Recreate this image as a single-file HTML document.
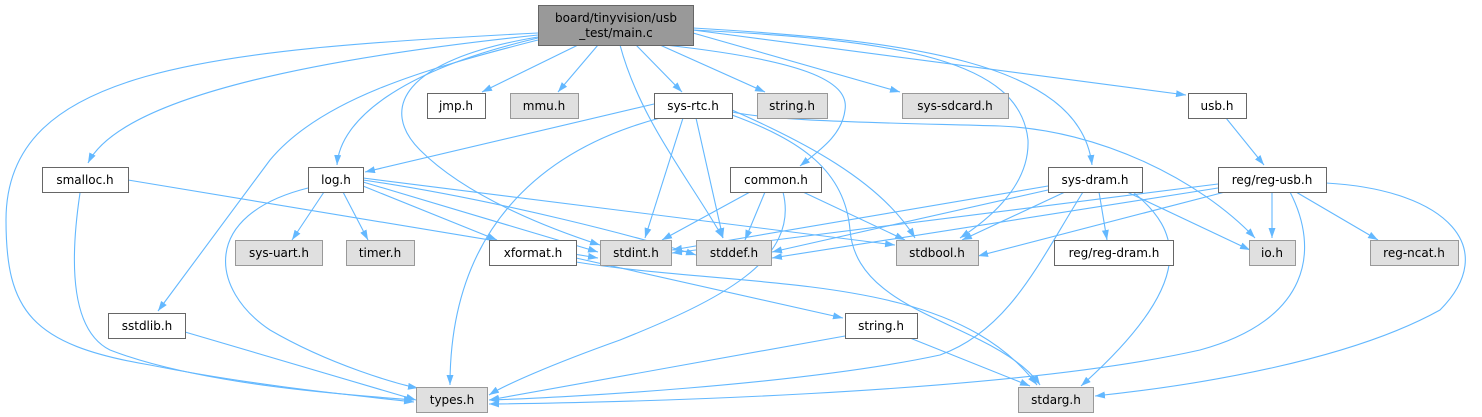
<!DOCTYPE html>
<html><head><meta charset="utf-8"><style>
html,body{margin:0;padding:0;background:#fff;}
svg{display:block;}
text{font-family:"DejaVu Sans","Liberation Sans",sans-serif;font-size:12px;fill:#000;}
</style></head><body>
<svg width="1482" height="417" viewBox="0 0 1482 417" xmlns="http://www.w3.org/2000/svg">
<defs>
<marker id="a" markerUnits="userSpaceOnUse" markerWidth="11" markerHeight="8" refX="10" refY="3.5" orient="auto">
<path d="M0,0 L10,3.5 L0,7 z" fill="#63b8ff"/>
</marker>
</defs>
<g fill="none" stroke="#63b8ff" stroke-width="1.1" marker-end="url(#a)">
<path d="M578,45 L482,92"/>
<path d="M598,45 L558,92"/>
<path d="M636,45 L682,92"/>
<path d="M660,45 L765,92"/>
<path d="M693,33 L900,92"/>
<path d="M693,30 L1186,95"/>
<path d="M693,28 C900,40 1080,60 1092,165"/>
<path d="M693,30 C900,40 1020,60 1028,140 C1030,190 980,225 960,238"/>
<path d="M665,45 C800,60 850,80 845,110 C842,135 820,150 800,166"/>
<path d="M620,45 C640,120 690,180 723,238"/>
<path d="M538,37 C400,60 380,110 420,150 C470,200 560,232 600,245"/>
<path d="M538,38 C400,70 340,120 337,165"/>
<path d="M538,35 C300,60 120,100 88,163"/>
<path d="M538,40 C420,70 320,100 270,160 L158,311"/>
<path d="M538,33 C200,50 6,70 6,220 C6,310 30,345 150,365 C250,385 350,395 414,402"/>
<path d="M654,104 L365,172"/>
<path d="M660,118 C540,150 450,230 450,385"/>
<path d="M683,118 L645,238"/>
<path d="M696,118 L723,238"/>
<path d="M732,110 C800,140 880,180 915,238"/>
<path d="M732,115 C800,140 845,170 850,230 C855,290 920,310 980,340 C1010,355 1030,370 1040,385"/>
<path d="M732,112 C780,122 900,123 1000,126 C1100,130 1200,180 1255,238"/>
<path d="M324,192 L292,240"/>
<path d="M343,192 L368,240"/>
<path d="M363,186 L497,240"/>
<path d="M363,182 L598,252"/>
<path d="M363,180 C500,200 650,240 696,255"/>
<path d="M363,178 L895,245"/>
<path d="M308,188 C200,215 210,290 270,330 C330,365 400,385 418,388"/>
<path d="M128,180 L598,258"/>
<path d="M80,193 C70,260 70,330 110,350 C200,385 350,395 414,400"/>
<path d="M750,192 L662,240"/>
<path d="M765,192 L745,240"/>
<path d="M803,192 L905,240"/>
<path d="M783,192 C800,260 720,300 620,340 C550,365 505,385 489,395"/>
<path d="M1048,186 L672,250"/>
<path d="M1048,190 L772,252"/>
<path d="M1065,192 L962,240"/>
<path d="M1099,192 L1107,240"/>
<path d="M1127,192 L1250,250"/>
<path d="M1133,192 C1180,230 1200,280 1081,386"/>
<path d="M1083,192 C1040,260 1010,330 940,355 C800,385 560,398 489,400"/>
<path d="M1218,184 L672,253"/>
<path d="M1218,188 L772,258"/>
<path d="M1225,192 L978,256"/>
<path d="M1272,192 L1272,238"/>
<path d="M1296,192 L1378,240"/>
<path d="M1326,183 C1450,190 1500,250 1440,310 C1350,360 1200,385 1095,396"/>
<path d="M1290,192 C1320,250 1310,320 1200,350 C1000,395 600,403 489,404"/>
<path d="M1226,118 L1264,165"/>
<path d="M576,258 L843,318"/>
<path d="M576,262 C750,290 950,270 1037,385"/>
<path d="M845,336 L489,400"/>
<path d="M910,338 L1030,386"/>
<path d="M185,332 L416,400"/>
</g>
<g stroke-width="1">
<rect x="538.5" y="5.5" width="155" height="40" fill="#999" stroke="#666"/>
<text x="616" y="22" text-anchor="middle">board/tinyvision/usb</text>
<text x="616" y="37" text-anchor="middle">_test/main.c</text>
</g>
<g>
<g fill="#fff" stroke="#666">
<rect x="427.5" y="93.5" width="58" height="25"/>
<rect x="654.5" y="93.5" width="78" height="25"/>
<rect x="1188.5" y="93.5" width="58" height="25"/>
<rect x="42.5" y="167.5" width="86" height="25"/>
<rect x="308.5" y="167.5" width="55" height="25"/>
<rect x="730.5" y="167.5" width="91" height="25"/>
<rect x="1048.5" y="167.5" width="94" height="25"/>
<rect x="1218.5" y="167.5" width="108" height="25"/>
<rect x="489.5" y="240.5" width="87" height="25"/>
<rect x="1054.5" y="240.5" width="119" height="25"/>
<rect x="108.5" y="313.5" width="77" height="25"/>
<rect x="845.5" y="313.5" width="72" height="25"/>
</g>
<g fill="#e0e0e0" stroke="#999">
<rect x="510.5" y="93.5" width="68" height="25"/>
<rect x="757.5" y="93.5" width="70" height="25"/>
<rect x="902.5" y="93.5" width="106" height="25"/>
<rect x="235.5" y="240.5" width="87" height="25"/>
<rect x="346.5" y="240.5" width="68" height="25"/>
<rect x="600.5" y="240.5" width="71" height="25"/>
<rect x="696.5" y="240.5" width="75" height="25"/>
<rect x="896.5" y="240.5" width="82" height="25"/>
<rect x="1249.5" y="240.5" width="46" height="25"/>
<rect x="1370.5" y="240.5" width="88" height="25"/>
<rect x="416.5" y="387.5" width="71" height="25"/>
<rect x="1018.5" y="387.5" width="75" height="25"/>
</g>
</g>
<g text-anchor="middle">
<text x="456" y="110">jmp.h</text>
<text x="544" y="110">mmu.h</text>
<text x="693" y="110">sys-rtc.h</text>
<text x="792" y="110">string.h</text>
<text x="955" y="110">sys-sdcard.h</text>
<text x="1217" y="110">usb.h</text>
<text x="85" y="184">smalloc.h</text>
<text x="336" y="184">log.h</text>
<text x="776" y="184">common.h</text>
<text x="1095" y="184">sys-dram.h</text>
<text x="1272" y="184">reg/reg-usb.h</text>
<text x="279" y="257">sys-uart.h</text>
<text x="380" y="257">timer.h</text>
<text x="533" y="257">xformat.h</text>
<text x="636" y="257">stdint.h</text>
<text x="734" y="257">stddef.h</text>
<text x="937" y="257">stdbool.h</text>
<text x="1114" y="257">reg/reg-dram.h</text>
<text x="1272" y="257">io.h</text>
<text x="1414" y="257">reg-ncat.h</text>
<text x="147" y="330">sstdlib.h</text>
<text x="881" y="330">string.h</text>
<text x="452" y="404">types.h</text>
<text x="1056" y="404">stdarg.h</text>
</g>
</svg>
</body></html>
